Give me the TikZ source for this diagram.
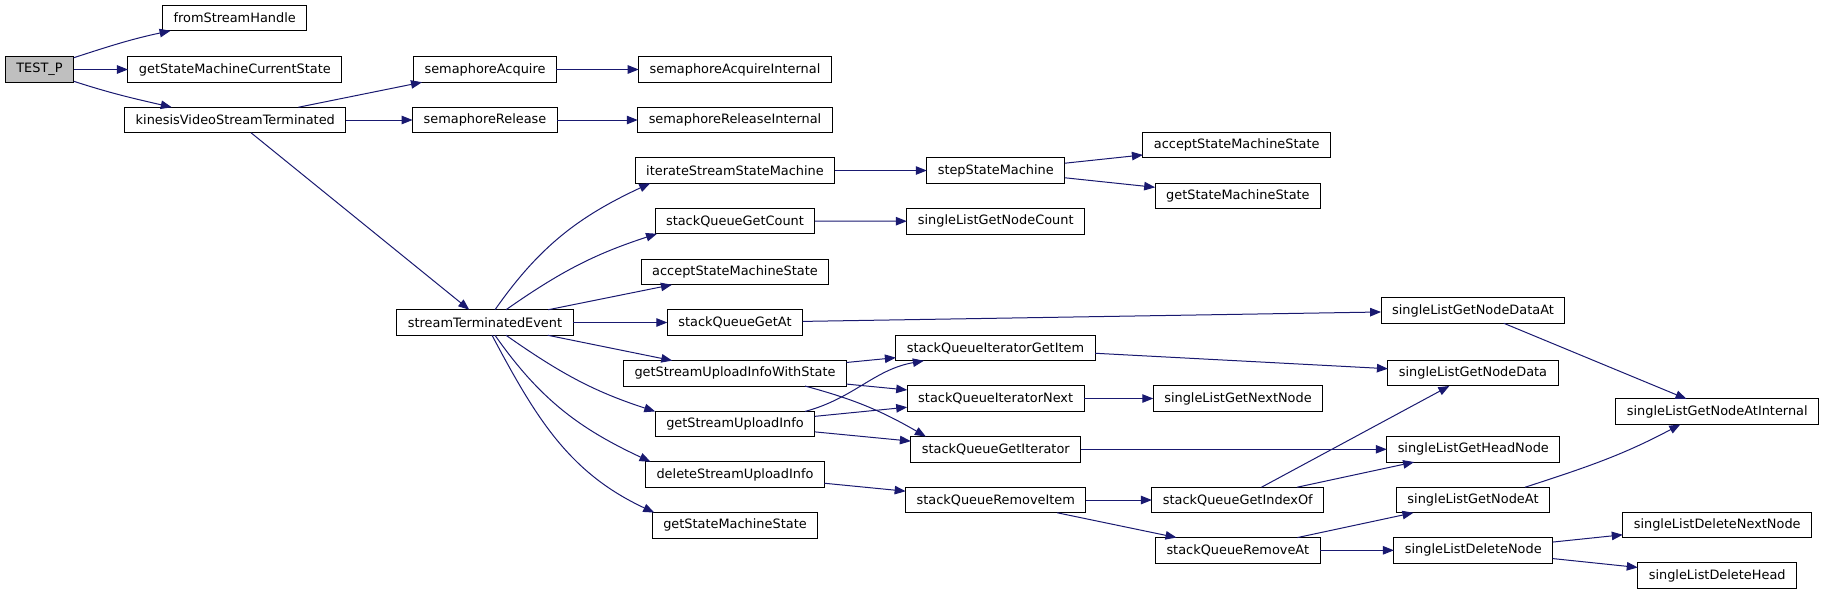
\documentclass[tikz,border=0pt]{standalone}
\usepackage{fontspec}
\setmainfont{DejaVu Sans}
\usepackage{tikz}
\usetikzlibrary{arrows.meta}
\definecolor{edgeblue}{HTML}{191970}

\begin{document}
\begin{tikzpicture}[x=1pt, y=1pt,
  fn/.style={draw=black, line width=1pt, fill=white, minimum height=25.5pt,
    inner xsep=11pt, inner ysep=0pt, outer sep=0pt,
    font=\fontsize{12.9pt}{15pt}\selectfont},
  call/.style={draw=edgeblue, line width=1pt, -{Triangle[length=11pt,width=8.5pt]}}]
\useasboundingbox (0,0) rectangle (1825,-595);
% functions
\node[fn, fill=gray!50] (test) at (39.5,-69.5) {TEST\_P};
\foreach \n/\x/\y/\txt in {
  fsh/234.7/18/fromStreamHandle, gsmcs/234.9/69.5/getStateMachineCurrentState,
  kvst/235.3/120/kinesisVideoStreamTerminated,
  sacq/485/69.5/semaphoreAcquire, srel/485/120/semaphoreRelease,
  ste/485/322.5/streamTerminatedEvent,
  sacqi/735/69.5/semaphoreAcquireInternal, sreli/735/120/semaphoreReleaseInternal,
  issm/735/170.5/iterateStreamStateMachine, sqgc/735/221/stackQueueGetCount,
  asms/735/272/acceptStateMachineState, sqga/735/322.5/stackQueueGetAt,
  gsuiws/735/373.3/getStreamUploadInfoWithState, gsui/735/424.2/getStreamUploadInfo,
  dsui/735/474.5/deleteStreamUploadInfo, gsms/735/525.3/getStateMachineState,
  ssm/995.8/170.5/stepStateMachine, slgnc/995.7/221.3/singleListGetNodeCount,
  sqigi/995.5/348/stackQueueIteratorGetItem, sqin/995.7/398.5/stackQueueIteratorNext,
  sqgi/995.8/449.3/stackQueueGetIterator, sqri/995.8/500/stackQueueRemoveItem,
  asmsb/1236.7/145/acceptStateMachineState, gsmsb/1237.9/196/getStateMachineState,
  slgnn/1238/398.5/singleListGetNextNode, sqgio/1237.8/500/stackQueueGetIndexOf,
  sqra/1237.8/550.3/stackQueueRemoveAt,
  slgnda/1473/310.5/singleListGetNodeDataAt, slgnd/1473/373.2/singleListGetNodeData,
  slghn/1473.3/449.3/singleListGetHeadNode, slgna/1473/500/singleListGetNodeAt,
  sldn/1473.3/550.3/singleListDeleteNode,
  slgnai/1717.3/411.7/singleListGetNodeAtInternal,
  sldnn/1717.2/525/singleListDeleteNextNode, sldh/1717.2/575.7/singleListDeleteHead} {
  \node[fn] (\n) at (\x,-\y) {\txt};
}
% straight calls
\foreach \a/\b in {test/gsmcs, kvst/sacq, kvst/srel, kvst/ste, sacq/sacqi, srel/sreli,
  ste/asms, ste/sqga, ste/gsuiws, issm/ssm, ssm/asmsb, ssm/gsmsb, sqgc/slgnc,
  sqga/slgnda, gsuiws/sqigi, gsuiws/sqin, gsui/sqin, gsui/sqgi, dsui/sqri,
  sqigi/slgnd, sqin/slgnn, sqgi/slghn, sqri/sqgio, sqri/sqra, sqgio/slgnd,
  sqgio/slghn, sqra/slgna, sqra/sldn, slgnda/slgnai, sldn/sldnn, sldn/sldh} {
  \draw[call] (\a) -- (\b);
}
% curved calls
\draw[call] ([yshift=-1]test.north east) to[out=18,in=192] ([xshift=8]fsh.south west);
\draw[call] ([yshift=1]test.south east) to[out=-18,in=167] ([xshift=47]kvst.north west);
\draw[call] ([xshift=10]ste.north) to[out=55,in=205] ([xshift=15]issm.south west);
\draw[call] ([xshift=21]ste.north) to[out=35,in=198] ([xshift=2]sqgc.south west);
\draw[call] ([xshift=21]ste.south) to[out=-35,in=162] ([xshift=0]gsui.north west);
\draw[call] ([xshift=10]ste.south) to[out=-55,in=155] ([xshift=5]dsui.north west);
\draw[call] ([xshift=7]ste.south) to[out=-62,in=155] ([xshift=2]gsms.north west);
\draw[call] ([xshift=70]gsuiws.south) to[out=-15,in=150] ([xshift=15]sqgi.north west);
\draw[call] ([xshift=70]gsui.north) to[out=15,in=190] ([xshift=28]sqigi.south west);
\draw[call] ([xshift=52]slgna.north) to[out=18,in=208] ([xshift=-37]slgnai.south);
\end{tikzpicture}
\end{document}
